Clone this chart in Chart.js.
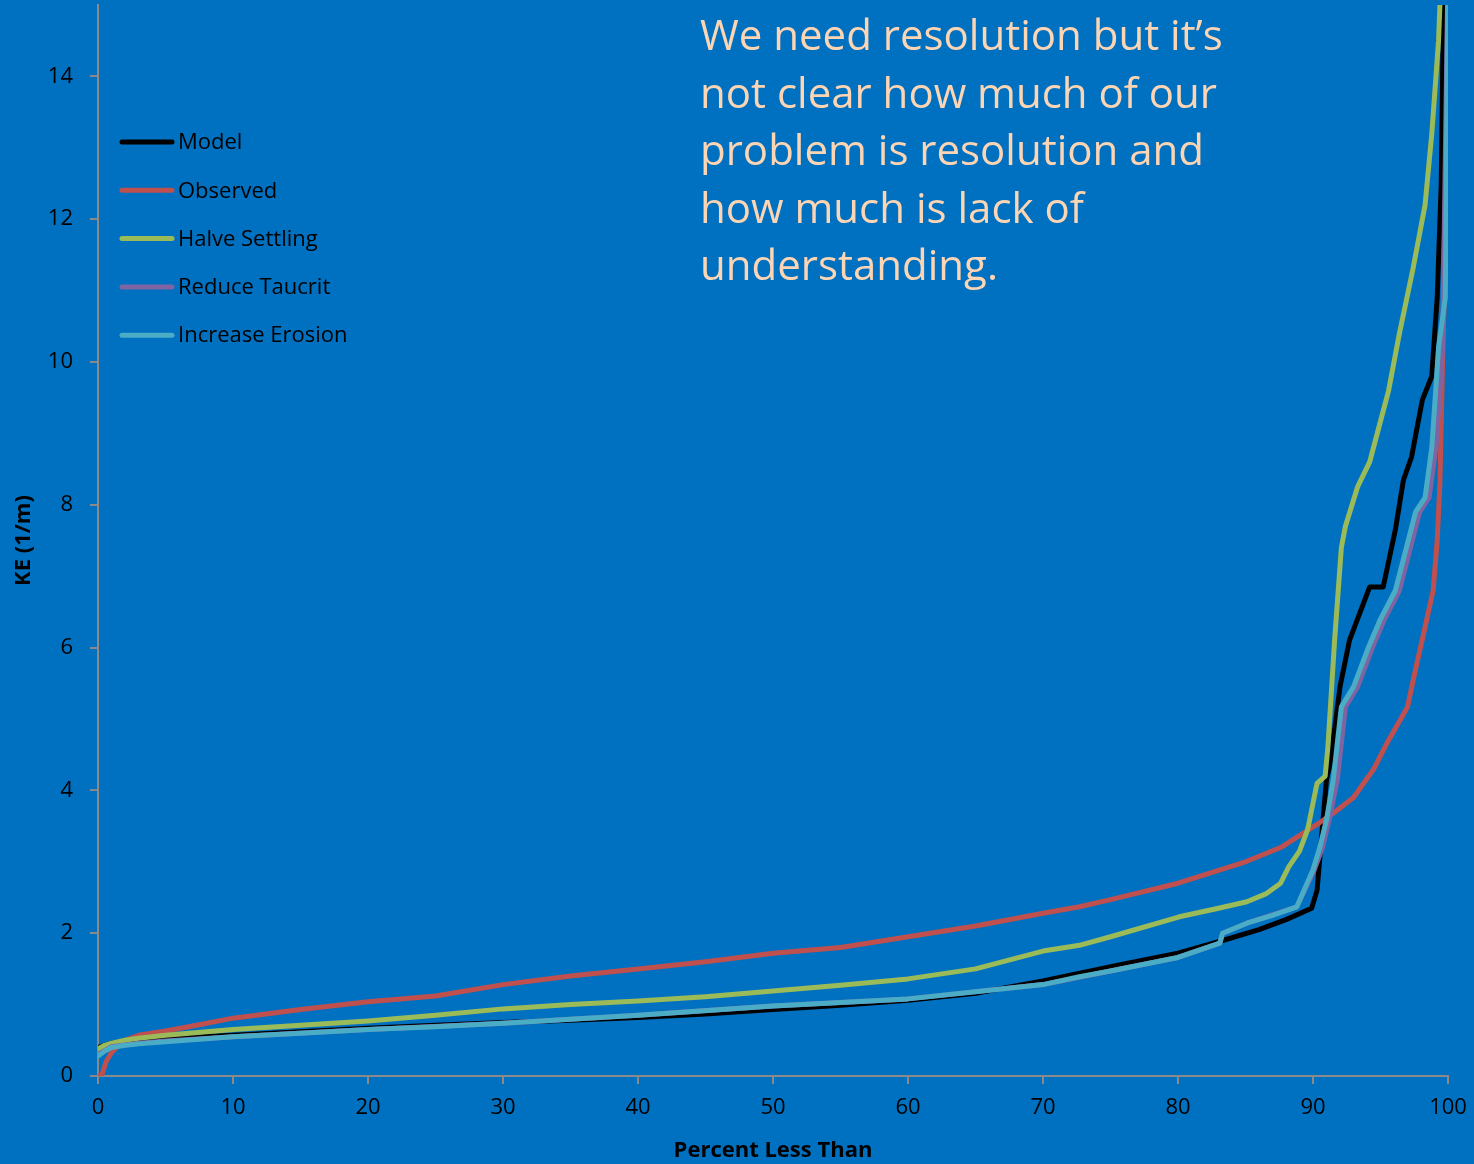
<!DOCTYPE html>
<html>
<head>
<meta charset="utf-8">
<title>KE distribution</title>
<script src="https://cdn.jsdelivr.net/npm/chart.js@4.4.1/dist/chart.umd.min.js"></script>
<style>
  html, body { margin: 0; padding: 0; background: #0070C0; overflow: hidden; }
  #wrap { width: 1474px; height: 1164px; }
</style>
</head>
<body>
<div id="wrap"><canvas id="keChart" width="1474" height="1164"></canvas></div>
<script>
// --- data (x = percent less than, y = KE in 1/m) ---
const modelPct = [0, 0.5, 1, 2, 3, 5, 10, 15, 20, 25, 30, 35, 40, 45, 50, 55, 60, 65, 70, 73, 76, 80, 83, 86, 88, 89.9, 90.3, 91.0, 91.3, 92.0, 92.7, 93.5, 94.2, 95.2, 96.1, 96.7, 97.3, 98.1, 98.8, 99.2, 99.5, 99.7];
const modelKE  = [0.4, 0.43, 0.46, 0.49, 0.5, 0.53, 0.57, 0.62, 0.67, 0.71, 0.75, 0.78, 0.82, 0.87, 0.93, 0.99, 1.06, 1.16, 1.33, 1.45, 1.57, 1.72, 1.88, 2.05, 2.19, 2.35, 2.6, 4.15, 4.4, 5.45, 6.1, 6.5, 6.85, 6.85, 7.65, 8.35, 8.67, 9.47, 9.8, 10.9, 12.5, 15.5];

const observedPct = [0, 0.3, 0.6, 1, 1.5, 2, 3, 5, 7, 10, 15, 20, 25, 30, 35, 40, 45, 50, 55, 60, 65, 70, 72.7, 75, 80, 85, 87.6, 90.5, 91.5, 93, 94.5, 95.5, 96.5, 97, 97.6, 98.2, 98.9, 99.2, 99.4, 99.6, 99.8, 100];
const observedKE  = [0, 0.02, 0.2, 0.33, 0.42, 0.5, 0.57, 0.63, 0.7, 0.81, 0.93, 1.04, 1.12, 1.28, 1.4, 1.5, 1.6, 1.72, 1.8, 1.95, 2.1, 2.28, 2.37, 2.47, 2.7, 3.0, 3.2, 3.55, 3.68, 3.9, 4.3, 4.67, 5.0, 5.17, 5.7, 6.2, 6.8, 7.5, 8.3, 10, 11.5, 12];

const halvePct = [0, 0.5, 1, 2, 3, 5, 10, 15, 20, 25, 30, 35, 40, 45, 50, 55, 60, 65, 70, 72.7, 75, 80.1, 83, 85.1, 86.5, 87.6, 88.2, 89, 89.6, 90.3, 90.9, 91.1, 91.6, 92.1, 92.4, 93.3, 94.2, 94.9, 95.6, 96.4, 97.4, 98.3, 98.8, 99.3, 99.5];
const halveKE  = [0.38, 0.43, 0.46, 0.5, 0.53, 0.57, 0.65, 0.71, 0.77, 0.85, 0.94, 1.0, 1.05, 1.11, 1.19, 1.27, 1.36, 1.5, 1.75, 1.83, 1.95, 2.23, 2.35, 2.44, 2.55, 2.7, 2.93, 3.15, 3.45, 4.1, 4.2, 4.6, 6.1, 7.4, 7.7, 8.25, 8.6, 9.1, 9.6, 10.4, 11.3, 12.2, 13.2, 14.5, 15.5];

const taucritPct = [0, 1, 3, 5, 10, 20, 30, 40, 50, 60, 70, 75, 80, 83.1, 83.3, 85.1, 88.8, 90.1, 90.7, 91.2, 91.8, 92.4, 93.3, 94.4, 95.3, 96.4, 97.9, 98.6, 99.1, 99.6, 100];
const taucritKE  = [0.3, 0.41, 0.46, 0.49, 0.55, 0.65, 0.74, 0.85, 0.98, 1.08, 1.28, 1.47, 1.66, 1.86, 2.0, 2.14, 2.37, 2.89, 3.2, 3.59, 4.15, 5.17, 5.45, 6.0, 6.4, 6.8, 7.9, 8.1, 8.8, 10.2, 15.5];

const erosionPct = [0, 0.5, 1, 2, 3, 5, 10, 15, 20, 25, 30, 40, 50, 60, 65, 70, 72.7, 75, 80, 83.1, 83.3, 85.1, 87, 88.8, 90, 90.5, 91, 91.5, 92.1, 93, 94.1, 95, 96.1, 97.6, 98.3, 98.8, 99.3, 99.8, 100];
const erosionKE  = [0.28, 0.35, 0.4, 0.43, 0.45, 0.48, 0.55, 0.6, 0.65, 0.69, 0.74, 0.85, 0.98, 1.08, 1.18, 1.28, 1.39, 1.47, 1.66, 1.86, 2.0, 2.14, 2.25, 2.37, 2.89, 3.2, 3.59, 4.15, 5.17, 5.45, 6.0, 6.4, 6.8, 7.9, 8.1, 8.8, 10.2, 10.9, 15.5];

const seriesNames = ['Model', 'Observed', 'Halve Settling', 'Reduce Taucrit', 'Increase Erosion'];
const xTickValues = [0, 10, 20, 30, 40, 50, 60, 70, 80, 90, 100];
const yTickValues = [0, 2, 4, 6, 8, 10, 12, 14];
const noteLines = [
  'We need resolution but it\u2019s',
  'not clear how much of our',
  'problem is resolution and',
  'how much is lack of',
  'understanding.'
];

// --- helpers ---
const toPoints = (xs, ys) => xs.map((x, i) => ({ x: x, y: ys[i] }));
const AXIS_GREY = '#8a8a8a';
const FONT = '"Open Sans", Lato, sans-serif';

const makeSeries = (label, xs, ys, color, order) => ({
  label: label,
  data: toPoints(xs, ys),
  borderColor: color,
  backgroundColor: color,
  borderWidth: 5,
  pointRadius: 0,
  tension: 0,
  fill: false,
  borderJoinStyle: 'round',
  borderCapStyle: 'round',
  order: order, // lower order ends up on top, like Excel's last series
});

// background fill
const bgPlugin = {
  id: 'bg',
  beforeDraw(chart) {
    const ctx = chart.ctx;
    ctx.save();
    ctx.fillStyle = '#0070C0';
    ctx.fillRect(0, 0, chart.width, chart.height);
    ctx.restore();
  },
};

// legend drawn inside the plot area, top-left
const insideLegend = {
  id: 'insideLegend',
  afterDraw(chart) {
    const ctx = chart.ctx;
    ctx.save();
    ctx.font = '22px ' + FONT;
    ctx.textBaseline = 'middle';
    chart.data.datasets.forEach((ds, i) => {
      const y = 142 + i * 48.3;
      ctx.strokeStyle = ds.borderColor;
      ctx.lineWidth = 5;
      ctx.lineCap = 'round';
      ctx.beginPath();
      ctx.moveTo(122, y);
      ctx.lineTo(172, y);
      ctx.stroke();
      ctx.fillStyle = '#000';
      ctx.fillText(ds.label, 178, y + 1);
    });
    ctx.restore();
  },
};

// text box on the slide
const notePlugin = {
  id: 'note',
  afterDraw(chart) {
    const ctx = chart.ctx;
    ctx.save();
    ctx.font = '42px ' + FONT;
    ctx.fillStyle = '#FCD5B4';
    ctx.textBaseline = 'alphabetic';
    noteLines.forEach((line, i) => {
      ctx.fillText(line, 700, 50 + i * 57.5);
    });
    ctx.restore();
  },
};

document.addEventListener('DOMContentLoaded', () => {
  const canvas = document.getElementById('keChart');

  new Chart(canvas, {
    type: 'line',
    data: {
      datasets: [
        makeSeries(seriesNames[0], modelPct, modelKE, '#000000', 5),
        makeSeries(seriesNames[1], observedPct, observedKE, '#C0504D', 4),
        makeSeries(seriesNames[2], halvePct, halveKE, '#9BBB59', 3),
        makeSeries(seriesNames[3], taucritPct, taucritKE, '#8064A2', 2),
        makeSeries(seriesNames[4], erosionPct, erosionKE, '#4BACC6', 1),
      ],
    },
    options: {
      responsive: false,
      animation: false,
      devicePixelRatio: 1,
      layout: { padding: { top: 5, right: 26, left: 0, bottom: 0 } },
      plugins: {
        legend: { display: false },
        tooltip: { enabled: false },
      },
      scales: {
        x: {
          type: 'linear',
          min: 0,
          max: 100,
          afterBuildTicks: (scale) => { scale.ticks = xTickValues.map(v => ({ value: v })); },
          afterFit: (scale) => {
            scale.height = 88;
            scale.paddingLeft = 0;
            scale.paddingRight = 0;
          },
          grid: { display: true, drawOnChartArea: false, drawTicks: true, tickLength: 8, color: AXIS_GREY, lineWidth: 2 },
          border: { display: true, color: AXIS_GREY, width: 2 },
          ticks: { color: '#000', font: { family: FONT, size: 22 }, padding: 11, maxRotation: 0 },
          title: {
            display: true,
            text: 'Percent Less Than',
            color: '#000',
            font: { family: FONT, size: 22, weight: 'bold' },
            padding: { top: 0, bottom: 0 },
          },
        },
        y: {
          type: 'linear',
          min: 0,
          max: 15,
          afterBuildTicks: (scale) => { scale.ticks = yTickValues.map(v => ({ value: v })); },
          afterFit: (scale) => {
            scale.width = 98;
            scale.paddingTop = 0;
            scale.paddingBottom = 0;
          },
          grid: { display: true, drawOnChartArea: false, drawTicks: true, tickLength: 8, color: AXIS_GREY, lineWidth: 2 },
          border: { display: true, color: AXIS_GREY, width: 2 },
          ticks: { color: '#000', font: { family: FONT, size: 22 }, padding: 17 },
          title: {
            display: true,
            text: 'KE (1/m)',
            color: '#000',
            font: { family: FONT, size: 22, weight: 'bold' },
            padding: { top: 11, bottom: 0 },
          },
        },
      },
    },
    plugins: [bgPlugin, insideLegend, notePlugin],
  });
});
</script>
</body>
</html>
